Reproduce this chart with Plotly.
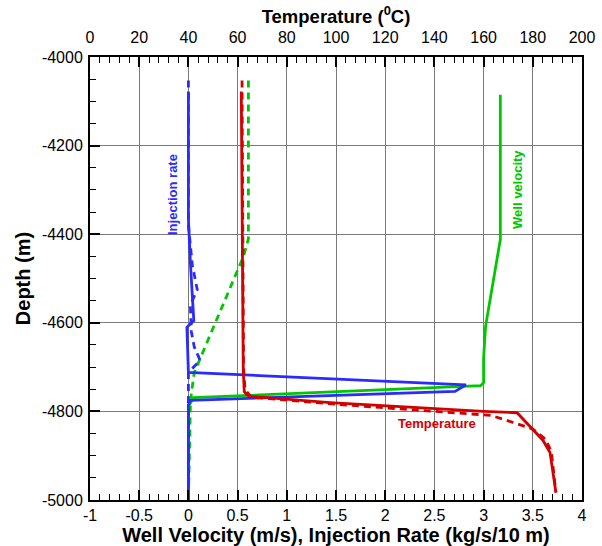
import plotly.graph_objects as go

# ---------------- data ----------------
# Injection rate (bottom axis, kg/s/10 m) vs depth (m)
inj_solid_x = [0.0, 0.0, 0.02, 0.04, 0.055, -0.015, 0.0, 0.0, 2.82, 2.71, 0.02, 0.0, 0.0]
inj_solid_d = [-4078, -4365, -4464, -4541, -4595, -4610, -4680, -4712, -4740, -4755, -4775, -4785, -5000]
inj_dash_x = [0.0, 0.0, 0.04, 0.09, 0.02, 0.03, 0.06, 0.12, 0.0, 0.0]
inj_dash_d = [-4053, -4380, -4470, -4525, -4560, -4620, -4655, -4685, -4712, -5000]

# Well velocity (bottom axis, m/s) vs depth (m)
vel_solid_x = [3.17, 3.17, 3.02, 3.0, 3.0, 2.97, 0.05, 0.0, 0.0]
vel_solid_d = [-4085, -4412, -4608, -4680, -4735, -4742, -4769, -4790, -5000]
vel_dash_x = [0.61, 0.61, 0.56, 0.06, 0.03, 0.02, 0.0]
vel_dash_d = [-4053, -4410, -4450, -4712, -4760, -4790, -5000]

# Temperature (top axis, deg C) vs depth (m)
temp_solid_t = [61.5, 62.0, 62.3, 62.7, 63.7, 65.0, 97.6, 160.0, 173.6, 184.1, 187.0, 189.4]
temp_solid_d = [-4078, -4400, -4705, -4755, -4762, -4766, -4780, -4800, -4803, -4865, -4893, -4983]
temp_dash_t = [61.8, 62.1, 62.4, 63.0, 65.5, 100.0, 163.0, 172.0, 180.0, 185.0, 187.5, 189.4]
temp_dash_d = [-4053, -4400, -4700, -4750, -4768, -4784, -4809, -4825, -4840, -4862, -4890, -4983]

x_tickvals = [-1, -0.5, 0, 0.5, 1, 1.5, 2, 2.5, 3, 3.5, 4]
x_ticktext = ["-1", "-0.5", "0", "0.5", "1", "1.5", "2", "2.5", "3", "3.5", "4"]
t_tickvals = [0, 20, 40, 60, 80, 100, 120, 140, 160, 180, 200]
t_ticktext = [str(v) for v in t_tickvals]
y_tickvals = [-5000, -4800, -4600, -4400, -4200, -4000]
y_ticktext = ["-5000", "-4800", "-4600", "-4400", "-4200", "-4000"]

BLUE = "#2b2bff"
GREEN = "#00c800"
RED = "#d40000"
DASH = "7px,5px"
LW = 2.8

fig = go.Figure()
fig.add_trace(go.Scatter(x=vel_dash_x, y=vel_dash_d, mode="lines",
                         line=dict(color=GREEN, width=LW, dash=DASH)))
fig.add_trace(go.Scatter(x=vel_solid_x, y=vel_solid_d, mode="lines",
                         line=dict(color=GREEN, width=LW)))
fig.add_trace(go.Scatter(x=temp_dash_t, y=temp_dash_d, mode="lines", xaxis="x2",
                         line=dict(color=RED, width=LW, dash=DASH)))
fig.add_trace(go.Scatter(x=temp_solid_t, y=temp_solid_d, mode="lines", xaxis="x2",
                         line=dict(color=RED, width=LW)))
fig.add_trace(go.Scatter(x=inj_dash_x, y=inj_dash_d, mode="lines",
                         line=dict(color=BLUE, width=LW, dash=DASH)))
fig.add_trace(go.Scatter(x=inj_solid_x, y=inj_solid_d, mode="lines",
                         line=dict(color=BLUE, width=LW)))

FONT = "Liberation Sans, Arial, sans-serif"
tickfont = dict(family=FONT, size=16, color="black")

fig.update_layout(
    width=602, height=546,
    margin=dict(l=90, r=20, t=57, b=46),
    paper_bgcolor="white", plot_bgcolor="white",
    showlegend=False,
    xaxis=dict(range=[-1, 4], tickvals=x_tickvals, ticktext=x_ticktext, automargin=False,
               ticks="inside", ticklen=10, tickwidth=2, tickcolor="black",
               minor=dict(dtick=0.1, ticks="inside", ticklen=6, tickwidth=1, tickcolor="black", showgrid=False),
               showgrid=True, gridcolor="#7a7a7a", gridwidth=1.3,
               showline=True, linecolor="black", linewidth=2,
               zeroline=False, tickfont=tickfont, ticklabelstandoff=0,
               title=dict(text="Well Velocity (m/s), Injection Rate (kg/s/10 m)",
                          font=dict(family=FONT, size=20, color="black", weight="bold"), standoff=0)),
    xaxis2=dict(range=[0, 200], overlaying="x", side="top", automargin=False,
                tickvals=t_tickvals, ticktext=t_ticktext,
                ticks="inside", ticklen=10, tickwidth=2, tickcolor="black",
                minor=dict(dtick=4, ticks="inside", ticklen=6, tickwidth=1, tickcolor="black", showgrid=False),
                showgrid=False, showline=True, linecolor="black", linewidth=2,
                zeroline=False, tickfont=tickfont, ticklabelstandoff=6,
                title=dict(text="Temperature (<sup>0</sup>C)",
                           font=dict(family=FONT, size=18.5, color="black", weight="bold"), standoff=0)),
    yaxis=dict(range=[-5000, -4000], tickvals=y_tickvals, ticktext=y_ticktext, automargin=False,
               ticks="inside", ticklen=10, tickwidth=2, tickcolor="black",
               minor=dict(dtick=50, ticks="inside", ticklen=6, tickwidth=1, tickcolor="black", showgrid=False),
               showgrid=True, gridcolor="#7a7a7a", gridwidth=1.3,
               showline=True, linecolor="black", linewidth=2, mirror=True,
               zeroline=False, tickfont=tickfont, ticklabelstandoff=2,
               title=dict(text="Depth (m)",
                          font=dict(family=FONT, size=20, color="black", weight="bold"), standoff=6)),
)

lblfont = dict(family=FONT, size=13, weight="bold")
fig.add_annotation(x=-0.16, y=-4310, xref="x", yref="y", text="Injection rate",
                   textangle=-90, showarrow=False, font=dict(color=BLUE, **lblfont))
fig.add_annotation(x=3.35, y=-4300, xref="x", yref="y", text="Well velocity",
                   textangle=-90, showarrow=False, font=dict(color=GREEN, **lblfont))
fig.add_annotation(x=2.53, y=-4828, xref="x", yref="y", text="Temperature",
                   showarrow=False, font=dict(color=RED, **lblfont))

fig.write_html("out.html")
